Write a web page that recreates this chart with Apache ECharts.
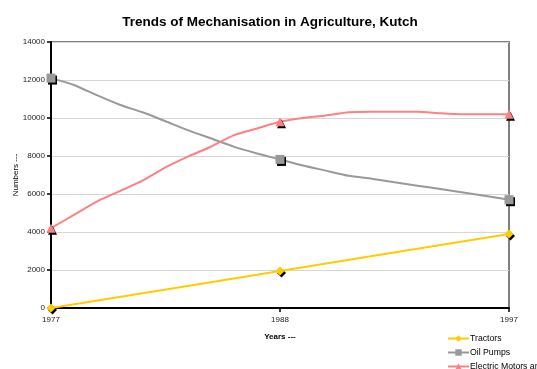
<!DOCTYPE html>
<html>
<head>
<meta charset="utf-8">
<script src="https://cdn.jsdelivr.net/npm/echarts@6/dist/echarts.min.js"></script>
<style>html,body{margin:0;padding:0;background:#fff;}#c{width:537px;height:369px;}</style>
</head>
<body>
<div id="c"></div>
<script>
// x slots: 21 evenly spaced positions; only 1977, 1988, 1997 are labelled
const categories = ['1977','','','','','','','','','','1988','','','','','','','','','','1997'];
const tractors = [0,null,null,null,null,null,null,null,null,null,1950,null,null,null,null,null,null,null,null,null,3900];
const oilPumps = [12100,11740,11200,10700,10300,9830,9350,8920,8480,8130,7820,7500,7230,6960,6800,6620,6440,6260,6080,5890,5700];
const electricMotors = [4200,4900,5600,6150,6700,7400,7980,8500,9100,9450,9800,10000,10130,10300,10330,10330,10330,10250,10200,10200,10200];
const seriesNames = ['Tractors','Oil Pumps','Electric Motors and Pumps'];
const yTicks = {min:0, max:14000, interval:2000};

const chart = echarts.init(document.getElementById('c'), null, {renderer:'canvas'});
const font = 'Liberation Sans, Arial, sans-serif';
const keyIdx = i => i % 10 === 0;
const markerStyle = (color) => ({
  color: color,
  shadowColor: '#000',
  shadowOffsetX: 1.5,
  shadowOffsetY: 2,
  shadowBlur: 0
});
function mk(name, data, color, symbol) {
  return {
    name: name, type: 'line', data: data,
    connectNulls: true, smooth: 0.2, showAllSymbol: true,
    symbol: symbol,
    symbolSize: (v, p) => keyIdx(p.dataIndex) ? 9 : 0,
    lineStyle: {color: color, width: 2},
    itemStyle: markerStyle(color),
    emphasis: {disabled: true}
  };
}
const legends = seriesNames.map((n, i) => ({
  orient: 'vertical', left: 447, top: 334 + i * 14,
  itemWidth: 21, itemHeight: 8, padding: 0,
  data: [n],
  textStyle: {fontSize: 8.7, color: '#000', fontFamily: font, padding: [0,0,0,-4]}
}));
chart.setOption({
  animation: false,
  backgroundColor: '#fff',
  textStyle: {fontFamily: font},
  title: {
    text: 'Trends of Mechanisation in Agriculture, Kutch',
    left: 265, textAlign: 'center', top: 10,
    textStyle: {fontSize: 13.5, fontWeight: 'bold', color: '#000', fontFamily: font}
  },
  legend: legends,
  grid: {
    left: 51, right: 28, top: 42, bottom: 61,
    outerBoundsMode: 'none', containLabel: false,
    show: true, borderColor: '#808080', borderWidth: 2, backgroundColor: '#fff'
  },
  xAxis: {
    type: 'category', data: categories, boundaryGap: false,
    name: 'Years ---', nameLocation: 'middle', nameGap: 25,
    nameTextStyle: {fontSize: 8, fontWeight: 'bold', color: '#000', fontFamily: font},
    axisLine: {lineStyle: {color: '#000', width: 2}},
    axisTick: {show: true, length: 4, lineStyle: {color: '#000', width: 1.5}, interval: (i) => keyIdx(i)},
    axisLabel: {fontSize: 8, color: '#222', margin: 8, interval: (i) => keyIdx(i), fontFamily: font},
    splitLine: {show: false}
  },
  yAxis: {
    type: 'value', min: yTicks.min, max: yTicks.max, interval: yTicks.interval,
    name: 'Numbers ---', nameLocation: 'middle', nameGap: 31, nameMoveOverlap: false,
    nameTextStyle: {fontSize: 8, color: '#000', fontFamily: font},
    axisLine: {show: true, lineStyle: {color: '#000', width: 2}},
    axisTick: {show: true, length: 4, lineStyle: {color: '#000', width: 1.5}},
    axisLabel: {fontSize: 8, color: '#222', margin: 6, fontFamily: font, formatter: v => String(v)},
    splitLine: {lineStyle: {color: '#d6d6d6', width: 1}}
  },
  series: [
    mk(seriesNames[0], tractors, '#FFCC00', 'diamond'),
    mk(seriesNames[1], oilPumps, '#999999', 'rect'),
    mk(seriesNames[2], electricMotors, '#FF8080', 'triangle')
  ]
});
</script>
</body>
</html>
